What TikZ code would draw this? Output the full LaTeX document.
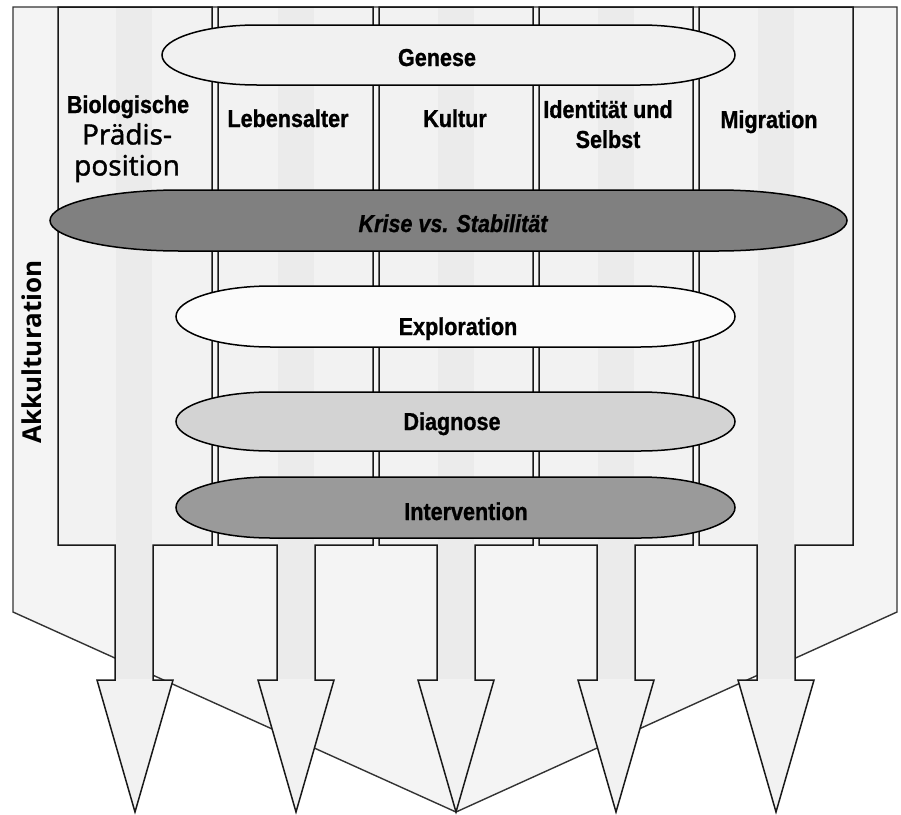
\documentclass[tikz,border=0pt]{standalone}
\usepackage{fontspec}
\setmainfont{Liberation Sans}
\newfontfamily\condfont[FakeStretch=0.88, FakeBold=1]{Liberation Sans}
\newfontfamily\widefont{Open Sans}
\newfontfamily\posfont[FakeBold=1.5]{Open Sans}
\definecolor{bgfill}{HTML}{F4F4F4}
\definecolor{colfill}{HTML}{F2F2F2}
\definecolor{shaftfill}{HTML}{EBEBEB}
\definecolor{genfill}{HTML}{F1F1F1}
\definecolor{krisefill}{HTML}{808080}
\definecolor{explfill}{HTML}{FBFBFB}
\definecolor{diagfill}{HTML}{D3D3D3}
\definecolor{intfill}{HTML}{9A9A9A}

\begin{document}
\begin{tikzpicture}[x=1pt, y=1pt,
  colbox/.style={fill=colfill, draw=black!90, line width=1.5pt},
  band/.style={draw=black, line width=1.5pt},
  lbl/.style={inner sep=0pt, font=\condfont\bfseries\fontsize{24.5}{30}\selectfont}]
\useasboundingbox (0,0) rectangle (901,-814);

% outer frame
\filldraw[fill=bgfill, draw=black!80, line width=1.4pt] (13,-7) -- (897,-7) -- (897,-612) -- (456,-812) -- (13,-612) -- cycle;

% columns with arrows
\filldraw[colbox] (58,-7) -- (58,-545) -- (115,-545) -- (115,-680) -- (97,-680) -- (135,-812) -- (173,-680) -- (153,-680) -- (153,-545) -- (212,-545) -- (212,-7) -- cycle;
\fill[shaftfill] (116,-8) rectangle (152,-679);
\filldraw[colbox] (218,-7) -- (218,-545) -- (277,-545) -- (277,-680) -- (258,-680) -- (296,-812) -- (334,-680) -- (315,-680) -- (315,-545) -- (373,-545) -- (373,-7) -- cycle;
\fill[shaftfill] (278,-8) rectangle (314,-679);
\filldraw[colbox] (379,-7) -- (379,-545) -- (437,-545) -- (437,-680) -- (418,-680) -- (456,-812) -- (494,-680) -- (475,-680) -- (475,-545) -- (533,-545) -- (533,-7) -- cycle;
\fill[shaftfill] (438,-8) rectangle (474,-679);
\filldraw[colbox] (539,-7) -- (539,-545) -- (597,-545) -- (597,-680) -- (578,-680) -- (616,-812) -- (654,-680) -- (635,-680) -- (635,-545) -- (693,-545) -- (693,-7) -- cycle;
\fill[shaftfill] (598,-8) rectangle (634,-679);
\filldraw[colbox] (699,-7) -- (699,-545) -- (757,-545) -- (757,-680) -- (738,-680) -- (776,-812) -- (814,-680) -- (795,-680) -- (795,-545) -- (853,-545) -- (853,-7) -- cycle;
\fill[shaftfill] (758,-8) rectangle (794,-679);

% bands
\filldraw[band, fill=genfill] (257,-25) -- (640,-25) arc[start angle=90, end angle=-90, x radius=95, y radius=30] -- (257,-85) arc[start angle=270, end angle=90, x radius=95, y radius=30] -- cycle;
\filldraw[band, fill=krisefill] (180,-190) -- (717,-190) arc[start angle=90, end angle=-90, x radius=130, y radius=30.5] -- (180,-251) arc[start angle=270, end angle=90, x radius=130, y radius=30.5] -- cycle;
\filldraw[band, fill=explfill] (271,-286) -- (640,-286) arc[start angle=90, end angle=-90, x radius=95, y radius=30.5] -- (271,-347) arc[start angle=270, end angle=90, x radius=95, y radius=30.5] -- cycle;
\filldraw[band, fill=diagfill] (271,-392) -- (640,-392) arc[start angle=90, end angle=-90, x radius=95, y radius=29.5] -- (271,-451) arc[start angle=270, end angle=90, x radius=95, y radius=29.5] -- cycle;
\filldraw[band, fill=intfill] (271,-477) -- (640,-477) arc[start angle=90, end angle=-90, x radius=95, y radius=30.5] -- (271,-538) arc[start angle=270, end angle=90, x radius=95, y radius=30.5] -- cycle;

\node[lbl, anchor=base] (genese) at (437,-66) {Genese};
\node[lbl, anchor=base, font=\condfont\bfseries\itshape\fontsize{24.5}{30}\selectfont] (krise) at (453,-232) {Krise vs. Stabilität};
\node[lbl, anchor=base] (exploration) at (458,-335) {Exploration};
\node[lbl, anchor=base] (diagnose) at (452,-430) {Diagnose};
\node[lbl, anchor=base] (intervention) at (466,-520) {Intervention};

% column heads
\node[lbl, anchor=base] (bio) at (128,-113) {Biologische};
\node[inner sep=0pt, anchor=north, align=center, font=\posfont\fontsize{28}{31}\selectfont] (praedis) at (127,-123) {Prädis-\\position};
\node[lbl, anchor=base] (leben) at (288,-127) {Lebensalter};
\node[lbl, anchor=base] (kultur) at (455,-127) {Kultur};
\node[lbl, anchor=north, align=center] (ident) at (608,-100) {Identität und\\Selbst};
\node[lbl, anchor=base] (migration) at (769,-128) {Migration};

\node[inner sep=0pt, rotate=90, font=\widefont\bfseries\fontsize{26}{30}\selectfont] (akku) at (32,-352) {Akkulturation};
\end{tikzpicture}
\end{document}
